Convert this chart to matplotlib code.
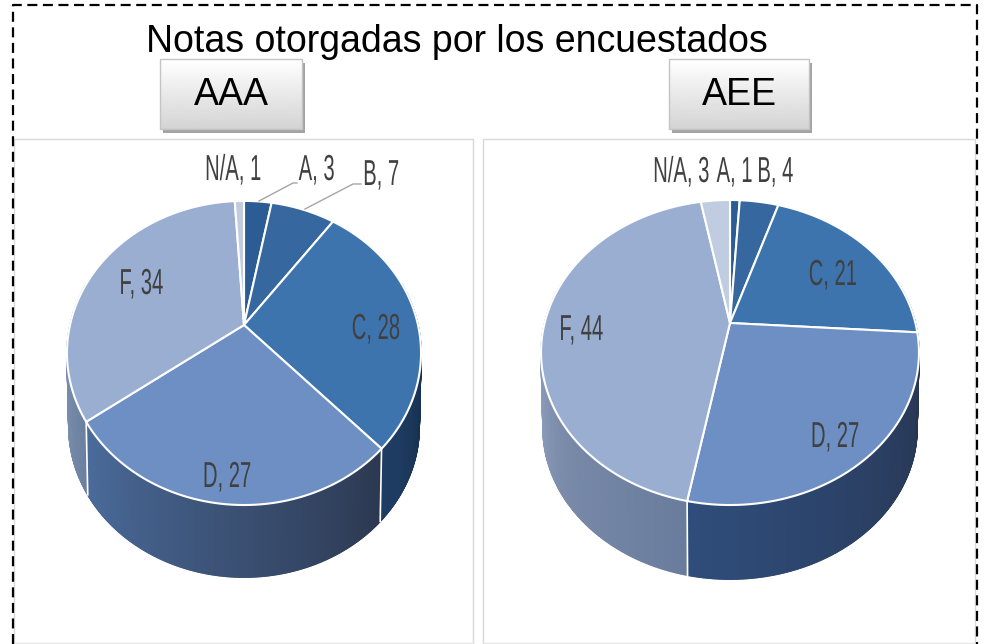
import numpy as np
import matplotlib
matplotlib.use('Agg')
import matplotlib.pyplot as plt
import matplotlib.patheffects as pe
from matplotlib.collections import PolyCollection
from matplotlib.colors import to_rgb
from matplotlib.patches import Rectangle
from matplotlib.path import Path
from matplotlib.transforms import Affine2D, Transform

# datos
categorias = ['A', 'B', 'C', 'D', 'F', 'N/A']
notas_aaa = [3, 7, 28, 27, 34, 1]
notas_aee = [1, 4, 21, 27, 44, 3]

titulo = 'Notas otorgadas por los encuestados'
nombres = ['AAA', 'AEE']

# colores
colores_cara = ['#2c5c94', '#36689f', '#3e74ad', '#6d8fc4', '#9aaed1', '#c0cde0']
lados_aaa = {'C': ('#1f3d63', '#16304f'), 'D': ('#4b6c9c', '#2c3850'),
             'F': ('#7d90ae', '#6b80a0')}
lados_aee = {'B': ('#1c3350', '#1c3350'), 'C': ('#20385a', '#1a3050'),
             'D': ('#2f4d7b', '#27344f'), 'F': ('#8f9fbc', '#6a7c9c')}

FUENTE = ['Liberation Sans', 'DejaVu Sans']


class Perspectiva(Transform):
    """Circulo unitario del pie -> elipse vista en perspectiva (en pixeles)
    """
    input_dims = 2
    output_dims = 2

    def __init__(self, cx, cy, a, b, k):
        super().__init__()
        self.cx, self.cy, self.a, self.b, self.k = cx, cy, a, b, k

    def transform_non_affine(self, values):
        values = np.asarray(values, dtype=float)
        w = 1 + self.k * values[:, 1]
        return np.column_stack((self.cx + self.a * values[:, 0] / w,
                                self.cy - self.b * values[:, 1] / w))

    def transform_path_non_affine(self, path):
        # aplanar las curvas de la cuna antes de deformarla
        polys = path.to_polygons(Affine2D().scale(2000), closed_only=False)
        v = np.vstack(polys) / 2000
        return Path(self.transform_non_affine(v))


class Estrecho(pe.AbstractPathEffect):
    """Estrecha el texto en horizontal alrededor de su centro (letra condensada)
    """

    def __init__(self, sx):
        super().__init__()
        self.sx = sx

    def draw_path(self, renderer, gc, tpath, affine, rgbFace=None):
        ext = tpath.get_extents()
        mid = (ext.x0 + ext.x1) / 2
        t = Affine2D().translate(-mid, 0).scale(self.sx, 1).translate(mid, 0)
        renderer.draw_path(gc, tpath, t + affine, rgbFace)


def pie3d(ax, valores, lados, cx, cy, a, b, k, alto):
    """Dibuja un pie con cara superior y lado visible
    """
    arriba = Perspectiva(cx, cy, a, b, k)
    abajo = Perspectiva(cx, cy + alto, a * 0.99, b * 0.99, k)
    cunas, _ = ax.pie(valores, colors=colores_cara, startangle=90,
                      counterclock=False,
                      wedgeprops={'edgecolor': 'white', 'linewidth': 1.5,
                                  'joinstyle': 'round', 'zorder': 3})
    for cuna, cat in zip(cunas, categorias):
        cuna.set_transform(arriba + ax.transData)
        cuna.set_clip_on(False)
        if cat not in lados:
            continue
        th = np.radians(np.linspace(cuna.theta1, cuna.theta2, 260))
        th = th[np.sin(th) < 0.3]
        if th.size < 2:
            continue
        p = np.column_stack((np.cos(th), np.sin(th)))
        t = arriba.transform_non_affine(p)
        d = abajo.transform_non_affine(p)
        c0, c1 = np.array(to_rgb(lados[cat][0])), np.array(to_rgb(lados[cat][1]))
        s = np.empty(th.size)
        s[np.argsort(t[:, 0])] = np.linspace(0, 1, th.size)
        quads, cols = [], []
        for i in range(th.size - 1):
            quads.append([t[i], t[i + 1], d[i + 1], d[i]])
            cols.append(c0 + (c1 - c0) * s[i])
        ax.add_collection(PolyCollection(quads, facecolors=cols, edgecolors=cols,
                                         linewidths=1, zorder=1))
    # lineas blancas verticales entre porciones
    for cuna in cunas:
        ang = np.radians(cuna.theta1)
        if np.sin(ang) < -0.1:
            p = np.array([[np.cos(ang), np.sin(ang)]])
            t = arriba.transform_non_affine(p)[0]
            d = abajo.transform_non_affine(p)[0]
            ax.plot([t[0], d[0]], [t[1], d[1]], color='white', lw=1.2, zorder=2)


def boton(ax, texto, x0, x1, y0, y1):
    ax.add_patch(Rectangle((x0 + 3, y0 + 4), x1 - x0, y1 - y0,
                           fc='#a3a3a3', ec='none', zorder=2))
    grad = np.linspace(1, 0.83, 64).reshape(-1, 1)
    ax.imshow(grad, extent=(x0, x1, y1, y0), cmap='gray', vmin=0, vmax=1,
              aspect='auto', zorder=3)
    ax.add_patch(Rectangle((x0, y0), x1 - x0, y1 - y0, fc='none', ec='#c4c4c4',
                           lw=1, zorder=4))
    ax.text((x0 + x1) / 2, 105, texto, ha='center', va='baseline',
            fontsize=27, family=FUENTE, color='black', zorder=5)


fig = plt.figure(figsize=(9.85, 6.44), dpi=100)
ax = fig.add_axes([0, 0, 1, 1])

pie3d(ax, notas_aaa, lados_aaa, 244, 325, 174, 146.9, 0.184, 74)
pie3d(ax, notas_aee, lados_aee, 730, 323, 185.4, 146.8, 0.1935, 76)

ax.set_aspect('auto')
ax.axis('off')

# paneles
for x0, x1 in [(14, 473), (483, 975)]:
    ax.plot([x0, x0, x1, x1], [644, 139, 139, 644], color='#d9d9d9', lw=1, zorder=0)
    ax.plot([x0, x1], [643, 643], color='#e6e6e6', lw=1, zorder=0)

# marco punteado
ax.plot([13, 13, 977, 977], [644, 5, 5, 644], color='black', lw=1.6,
        dashes=(4.5, 2.5), zorder=6)

ax.text(457, 52, titulo, ha='center', va='baseline', fontsize=27, family=FUENTE,
        color='black', zorder=5)
boton(ax, nombres[0], 160, 302, 59, 129)
boton(ax, nombres[1], 669, 809, 59, 129)
ax.set_xlim(0, 985)
ax.set_ylim(644, 0)

# lineas guia
ax.plot([259, 293, 297], [201, 183, 183], color='#a6a6a6', lw=1, zorder=4)
ax.plot([305, 353, 361], [209, 184, 184], color='#a6a6a6', lw=1, zorder=4)

# etiquetas: categoria, valor (x centro, y linea base)
posiciones_aaa = {'A': (317, 180), 'B': (381, 185), 'C': (376, 339), 'D': (227, 487),
                  'F': (141, 294), 'N/A': (233, 180)}
posiciones_aee = {'A': (735, 182), 'B': (775, 182), 'C': (833, 285), 'D': (835, 447),
                  'F': (581, 340), 'N/A': (681, 182)}
for valores, posiciones in [(notas_aaa, posiciones_aaa), (notas_aee, posiciones_aee)]:
    for cat, val in zip(categorias, valores):
        x, y = posiciones[cat]
        ax.text(x, y, f'{cat}, {val}', ha='center', va='baseline', fontsize=26,
                family=FUENTE, color='#404040', zorder=5,
                path_effects=[Estrecho(0.56)])

fig.savefig('out.png', dpi=100)
